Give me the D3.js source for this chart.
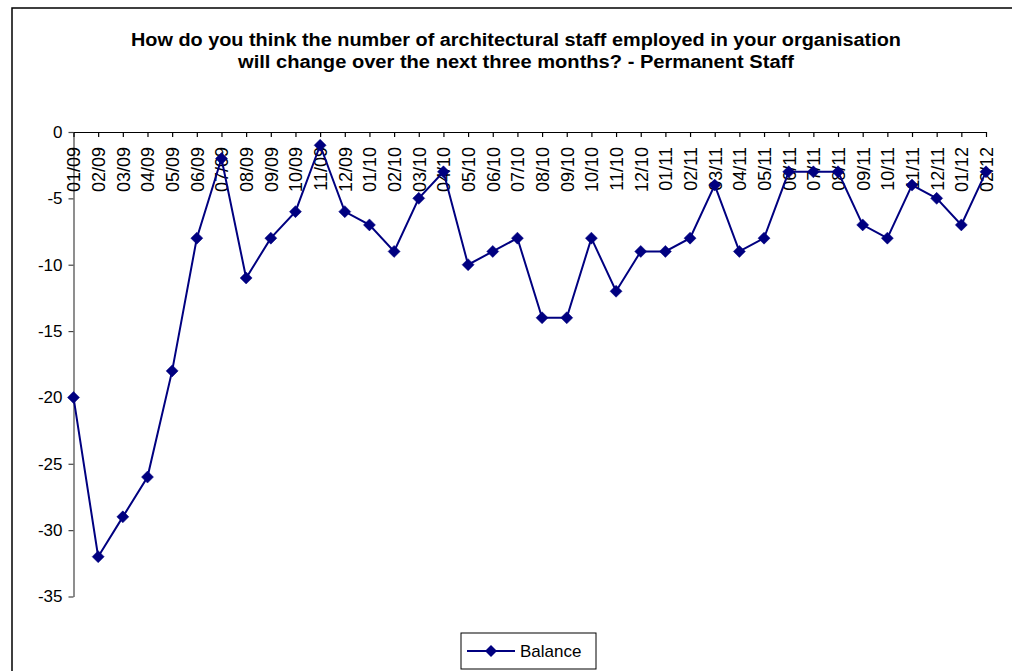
<!DOCTYPE html>
<html>
<head>
<meta charset="utf-8">
<script src="https://cdn.jsdelivr.net/npm/d3@7"></script>
<style>
  html, body { margin: 0; padding: 0; background: #fff; }
  svg { display: block; }
  text { font-family: "Liberation Sans", Arial, sans-serif; }
</style>
</head>
<body>
<svg id="chart" width="1012" height="671"></svg>
<script>
const categories = ["01/09","02/09","03/09","04/09","05/09","06/09","07/09","08/09","09/09","10/09","11/09","12/09",
  "01/10","02/10","03/10","04/10","05/10","06/10","07/10","08/10","09/10","10/10","11/10","12/10",
  "01/11","02/11","03/11","04/11","05/11","06/11","07/11","08/11","09/11","10/11","11/11","12/11",
  "01/12","02/12"];
const balance = [-20,-32,-29,-26,-18,-8,-2,-11,-8,-6,-1,-6,
  -7,-9,-5,-3,-10,-9,-8,-14,-14,-8,-12,-9,
  -9,-8,-4,-9,-8,-3,-3,-3,-7,-8,-4,-5,
  -7,-3];
const yTicks = [0,-5,-10,-15,-20,-25,-30,-35];
const titleLines = ["How do you think the number of architectural staff employed in your organisation",
  "will change over the next three months? - Permanent Staff"];
const seriesName = "Balance";

(function () {
const svg = d3.select("#chart");
const W = 1012, H = 671;
const color = "#000080";

// outer frame
svg.append("rect").attr("x", 12).attr("y", 8).attr("width", W + 20).attr("height", H + 20)
  .attr("fill", "#fff").attr("stroke", "#000").attr("stroke-width", 1.5);

const pLeft = 73.5, pRight = 986, pTop = 132, pBottom = 596.5;
const x = d3.scalePoint().domain(categories).range([pLeft, pRight]);
const y = d3.scaleLinear().domain([-35, 0]).range([pBottom, pTop]);

// title
const tW = [770, 556];
svg.append("g").selectAll("text").data(titleLines).join("text")
  .attr("x", 516).attr("y", (d, i) => 46 + i * 22)
  .attr("text-anchor", "middle")
  .attr("font-size", 17.5).attr("font-weight", "bold").attr("fill", "#000")
  .attr("textLength", (d, i) => tW[i]).attr("lengthAdjust", "spacingAndGlyphs")
  .text(d => d);

// y axis
const yAxis = svg.append("g").attr("transform", `translate(${pLeft},0)`)
  .call(d3.axisLeft(y).tickValues(yTicks).tickSize(5).tickSizeOuter(0).tickFormat(d => String(d)));
yAxis.select(".domain").attr("stroke", "#444").attr("stroke-width", 1.2);
yAxis.selectAll(".tick line").attr("stroke", "#444").attr("stroke-width", 1.2);
yAxis.selectAll(".tick text").attr("font-size", 17).attr("fill", "#000").attr("x", -11)
  .attr("font-family", "Liberation Sans, Arial, sans-serif");

// x axis at y=0 (top), ticks pointing down
const xAxis = svg.append("g").attr("transform", `translate(0,${y(0)})`)
  .call(d3.axisBottom(x).tickSize(5).tickSizeOuter(0));
xAxis.select(".domain").attr("stroke", "#000").attr("stroke-width", 1.2);
xAxis.selectAll(".tick line").attr("stroke", "#000").attr("stroke-width", 1.2);
xAxis.selectAll(".tick text")
  .attr("font-size", 18).attr("fill", "#000")
  .attr("font-family", "Liberation Sans, Arial, sans-serif")
  .attr("transform", "rotate(-90)")
  .attr("text-anchor", "end")
  .attr("x", -15).attr("y", 0).attr("dy", "0.36em");

// line
const line = d3.line().x((d, i) => x(categories[i])).y(d => y(d));
svg.append("path").datum(balance).attr("d", line)
  .attr("fill", "none").attr("stroke", color).attr("stroke-width", 2);

// markers
svg.append("g").selectAll("path").data(balance).join("path")
  .attr("d", "M0,-6L6,0L0,6L-6,0Z")
  .attr("transform", (d, i) => `translate(${x(categories[i])},${y(d)})`)
  .attr("fill", color).attr("stroke", color).attr("stroke-width", 0.5);

// legend
const lg = svg.append("g");
lg.append("rect").attr("x", 461).attr("y", 633).attr("width", 135).attr("height", 36)
  .attr("fill", "#fff").attr("stroke", "#000").attr("stroke-width", 1);
lg.append("line").attr("x1", 467).attr("x2", 515).attr("y1", 651).attr("y2", 651)
  .attr("stroke", color).attr("stroke-width", 2);
lg.append("path").attr("d", "M0,-6L6,0L0,6L-6,0Z").attr("transform", "translate(491,651)")
  .attr("fill", color);
lg.append("text").attr("x", 520).attr("y", 657).attr("font-size", 17).attr("fill", "#000").text(seriesName);
})();
</script>
</body>
</html>
